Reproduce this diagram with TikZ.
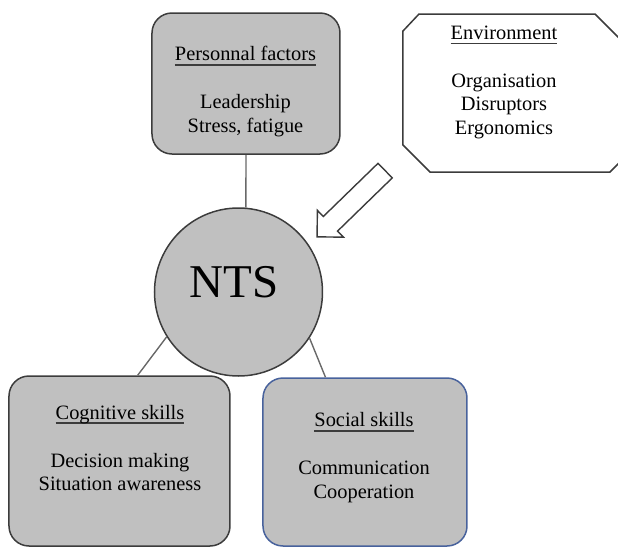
\documentclass[tikz,border=0pt]{standalone}
\usepackage{fontspec}
\setmainfont{Liberation Serif}
\usetikzlibrary{shapes.arrows}
\definecolor{boxfill}{RGB}{192,192,192}
\definecolor{edge}{RGB}{60,60,60}
\definecolor{linkgray}{RGB}{105,105,105}
\definecolor{socialblue}{RGB}{72,98,156}
\newcommand{\heading}[1]{\setbox0=\hbox{#1}\rlap{\color{edge}\rule[-2.4pt]{\wd0}{0.7pt}}\box0}

\begin{document}
\begin{tikzpicture}[x=0.5pt, y=-0.5pt,
  box/.style={draw=edge, fill=boxfill, rounded corners=10pt, line width=0.75pt, inner sep=0pt},
  ntscircle/.style={draw=edge, fill=boxfill, circle, line width=0.75pt, inner sep=0pt, minimum size=84pt},
  txt/.style={align=center, anchor=north, inner sep=0pt, font=\fontsize{10.2}{11.8}\selectfont},
  link/.style={draw=linkgray, line width=0.7pt},
  hollow/.style={single arrow, draw=edge, fill=white, line width=0.7pt,
                 single arrow tip angle=90, single arrow head extend=4.25pt,
                 inner xsep=0pt, inner ysep=4.75pt, minimum height=47.5pt},
]
\useasboundingbox (0,0) rectangle (618,547);
\clip (0,0) rectangle (618,547);
% influences (top row)
\node[box, minimum width=94pt, minimum height=70.5pt] (pers) at (246,83.5) {};
\node[txt] (perstxt) at (245.5,46.2) {\heading{Personnal factors}\\[12.2pt]Leadership\\Stress, fatigue};
\draw[draw=edge, fill=white, line width=0.75pt]
  (419,14) -- (595,14) -- (625,44) -- (625,157) -- (610,172) -- (430,172) -- (403,145) -- (403,31) -- cycle;
\node[txt] (env) at (504,25.2) {\heading{Environment}\\[12.2pt]Organisation\\Disruptors\\Ergonomics};
% centre
\node[ntscircle] (nts) at (238.5,292) {};
\node[font=\fontsize{23.5}{28}\selectfont, inner sep=0pt] (ntstxt) at (234,281.7) {NTS};
\node[hollow, rotate=224.2] (envarrow) at (354.75,200.15) {};
% skills (bottom row)
\node[box, minimum width=110.5pt, minimum height=85pt] (cog) at (119.5,461) {};
\node[txt] (cogtxt) at (120,404.5) {\heading{Cognitive skills}\\[12.2pt]Decision making\\Situation awareness};
\node[box, draw=socialblue, minimum width=102pt, minimum height=84pt] (soc) at (365,462) {};
\node[txt] (soctxt) at (364,412.2) {\heading{Social skills}\\[12.2pt]Communication\\Cooperation};
\draw[link] (pers.south) -- (nts.85);
\draw[link] (nts.212.5) -- (cog.78);
\draw[link] (nts.327.7) -- (soc.115.5);
\end{tikzpicture}
\end{document}
